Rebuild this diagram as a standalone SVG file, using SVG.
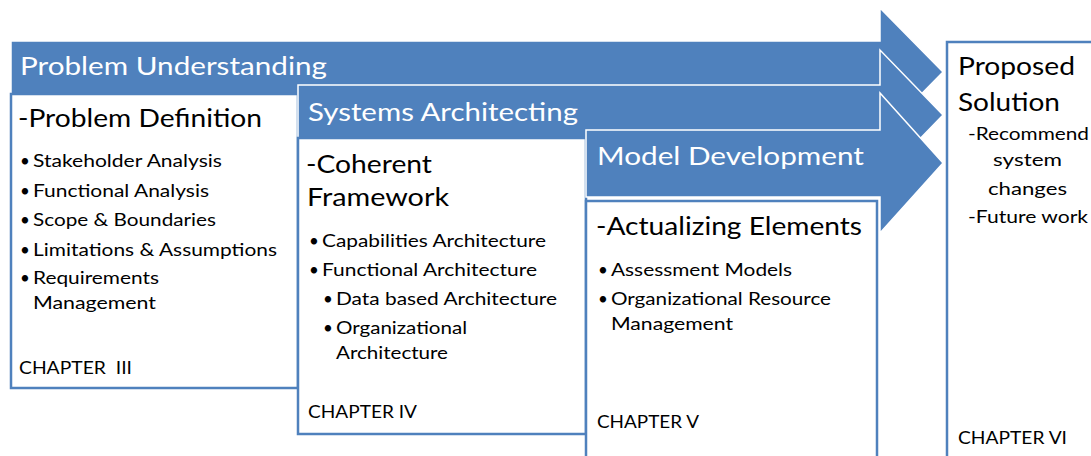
<svg xmlns="http://www.w3.org/2000/svg" width="1091" height="456" viewBox="0 0 1091 456">
<style>
.arrow{fill:#4F81BD;stroke:#FFFFFF;stroke-width:1.5;stroke-linejoin:miter}
.box{fill:#FFFFFF;stroke:#4F81BD;stroke-width:2.5}
text{font-family:Lato,"Open Sans","Liberation Sans",sans-serif}
.hd{fill:#FFFFFF;font-size:25px}
.tt{fill:#000000;font-size:25px}
.it{fill:#000000;font-size:17px}
</style>
<rect width="1091" height="456" fill="#FFFFFF"/>
<g id="connectors">
<path id="arrow-problem-understanding" class="arrow" d="M11,41 H880 V8 L943,72 L880,136 V103 H11 Z"/>
</g>
<g id="node-problem-understanding">
<text class="hd" x="20" y="75" textLength="307" lengthAdjust="spacingAndGlyphs">Problem Understanding</text>
</g>
<g id="node-problem-definition">
<rect class="box" x="11" y="94" width="287" height="294"/>
<text class="tt" x="18" y="127" textLength="244" lengthAdjust="spacingAndGlyphs">-Problem Definition</text>
<text class="it" x="20" y="167">•</text><text class="it" x="33" y="167" textLength="189" lengthAdjust="spacingAndGlyphs">Stakeholder Analysis</text>
<text class="it" x="20" y="197">•</text><text class="it" x="33" y="197" textLength="176" lengthAdjust="spacingAndGlyphs">Functional Analysis</text>
<text class="it" x="20" y="226">•</text><text class="it" x="33" y="226" textLength="183" lengthAdjust="spacingAndGlyphs">Scope &amp; Boundaries</text>
<text class="it" x="20" y="256">•</text><text class="it" x="33" y="256" textLength="244" lengthAdjust="spacingAndGlyphs">Limitations &amp; Assumptions</text>
<text class="it" x="20" y="284">•</text><text class="it" x="33" y="284" textLength="126" lengthAdjust="spacingAndGlyphs">Requirements</text>
<text class="it" x="33" y="309" textLength="123" lengthAdjust="spacingAndGlyphs">Management</text>
<text class="it" x="19" y="374" textLength="113" lengthAdjust="spacingAndGlyphs" xml:space="preserve">CHAPTER  III</text>
</g>
<g id="connectors-2">
<path id="arrow-systems-architecting" class="arrow" d="M298,85 H880 V50 L943,115 L880,180 V145 H298 Z"/>
</g>
<g id="node-systems-architecting">
<text class="hd" x="308" y="121" textLength="270" lengthAdjust="spacingAndGlyphs">Systems Architecting</text>
</g>
<g id="node-coherent-framework">
<rect class="box" x="298" y="138" width="288" height="296"/>
<text class="tt" x="306" y="173" textLength="126" lengthAdjust="spacingAndGlyphs">-Coherent</text>
<text class="tt" x="307" y="206" textLength="142" lengthAdjust="spacingAndGlyphs">Framework</text>
<text class="it" x="309" y="247">•</text><text class="it" x="322" y="247" textLength="224" lengthAdjust="spacingAndGlyphs">Capabilities Architecture</text>
<text class="it" x="309" y="276">•</text><text class="it" x="322" y="276" textLength="215" lengthAdjust="spacingAndGlyphs">Functional Architecture</text>
<text class="it" x="323" y="305">•</text><text class="it" x="336" y="305" textLength="221" lengthAdjust="spacingAndGlyphs">Data based Architecture</text>
<text class="it" x="323" y="334">•</text><text class="it" x="336" y="334" textLength="131" lengthAdjust="spacingAndGlyphs">Organizational</text>
<text class="it" x="336" y="359" textLength="112" lengthAdjust="spacingAndGlyphs">Architecture</text>
<text class="it" x="308" y="418" textLength="109" lengthAdjust="spacingAndGlyphs">CHAPTER IV</text>
</g>
<g id="connectors-3">
<path id="arrow-model-development" class="arrow" d="M586,130 H880 V93 L943,163 L880,233 V197 H586 Z"/>
</g>
<g id="node-model-development">
<text class="hd" x="597" y="165" textLength="267" lengthAdjust="spacingAndGlyphs">Model Development</text>
</g>
<g id="node-actualizing-elements">
<rect class="box" x="586" y="201" width="291" height="270"/>
<text class="tt" x="596" y="235" textLength="266" lengthAdjust="spacingAndGlyphs">-Actualizing Elements</text>
<text class="it" x="598" y="276">•</text><text class="it" x="611" y="276" textLength="181" lengthAdjust="spacingAndGlyphs">Assessment Models</text>
<text class="it" x="598" y="305">•</text><text class="it" x="611" y="305" textLength="220" lengthAdjust="spacingAndGlyphs">Organizational Resource</text>
<text class="it" x="611" y="330" textLength="122" lengthAdjust="spacingAndGlyphs">Management</text>
<text class="it" x="597" y="428" textLength="102" lengthAdjust="spacingAndGlyphs">CHAPTER V</text>
</g>
<g id="node-proposed-solution">
<rect class="box" x="947" y="42" width="160" height="430"/>
<text class="tt" x="958" y="75" textLength="117" lengthAdjust="spacingAndGlyphs">Proposed</text>
<text class="tt" x="958" y="111" textLength="102" lengthAdjust="spacingAndGlyphs">Solution</text>
<text class="it" x="968" y="140" textLength="121" lengthAdjust="spacingAndGlyphs">-Recommend</text>
<text class="it" x="993" y="166" textLength="69" lengthAdjust="spacingAndGlyphs">system</text>
<text class="it" x="988" y="195" textLength="79" lengthAdjust="spacingAndGlyphs">changes</text>
<text class="it" x="968" y="223" textLength="120" lengthAdjust="spacingAndGlyphs">-Future work</text>
<text class="it" x="958" y="444" textLength="109" lengthAdjust="spacingAndGlyphs">CHAPTER VI</text>
</g>
</svg>
